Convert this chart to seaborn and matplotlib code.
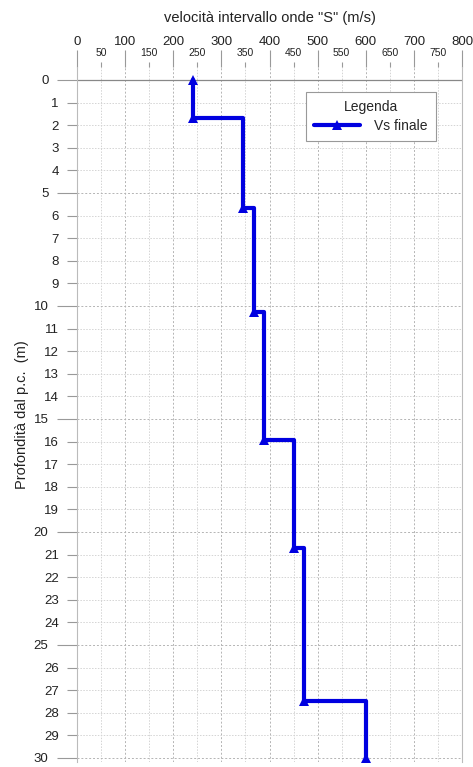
import numpy as np
import pandas as pd
import seaborn as sns
import matplotlib.pyplot as plt
from matplotlib.ticker import MultipleLocator

# Vs interval velocity profile (m/s) and layer bottoms (m)
vs_layers = [240, 345, 367, 388, 450, 472, 600]
layer_bottoms = [1.7, 5.65, 10.25, 15.95, 20.7, 27.5, 30.0]
x_major = [0, 100, 200, 300, 400, 500, 600, 700, 800]
x_minor = [50, 150, 250, 350, 450, 550, 650, 750]

# build step path: each layer vertical from its top to its bottom
xs, ys = [], []
top = 0.0
for v, b in zip(vs_layers, layer_bottoms):
    xs += [v, v]
    ys += [top, b]
    top = b
df = pd.DataFrame({'vs': xs, 'depth': ys, 'serie': 'Vs finale'})
marks = [0] + list(range(1, len(xs), 2))

sns.set_theme(style='white')
plt.rcParams['font.family'] = ['Liberation Sans', 'DejaVu Sans']

fig = plt.figure(figsize=(4.73, 7.67), dpi=100)
ax = fig.add_axes([77/473, 1 - 762/767, (462 - 77)/473, (762 - 67)/767])

sns.lineplot(data=df, x='vs', y='depth', sort=False, estimator=None, ax=ax,
             color='#0000e0', linewidth=3.0, marker='^', markersize=7,
             markeredgewidth=0, markevery=marks, label='Vs finale', zorder=5)

ax.set_xlim(0, 800)
ax.set_ylim(30.18, -0.575)

# grid
ax.xaxis.set_major_locator(MultipleLocator(100))
ax.xaxis.set_minor_locator(MultipleLocator(50))
ax.yaxis.set_major_locator(MultipleLocator(5))
ax.yaxis.set_minor_locator(MultipleLocator(1))
ax.grid(which='major', color='#b4b4b4', linestyle=(0, (2, 2)), linewidth=0.7)
ax.grid(which='minor', color='#d4d4d4', linestyle=(0, (1.5, 1.5)), linewidth=0.7)
ax.axhline(0, color='#888888', linewidth=0.9, zorder=2)

# top x axis with two rows of labels
ax.xaxis.tick_top()
ax.xaxis.set_label_position('top')
ax.set_xticks(x_major)
ax.set_xticks(x_minor, minor=True)
ax.set_xticklabels([str(v) for v in x_major])
ax.set_xticklabels([str(v) for v in x_minor], minor=True)
ax.tick_params(axis='x', which='major', direction='out', length=12, width=0.8,
               color='#999999', labelsize=9.5, pad=1.5, labelcolor='#222222')
ax.tick_params(axis='x', which='minor', direction='out', length=3.5, width=0.8,
               color='#999999', labelsize=7.5, pad=3, labelcolor='#222222')
ax.set_xlabel('velocità intervallo onde "S" (m/s)', fontsize=10.5, labelpad=10,
              color='#222222')

# y axis: major ticks longer, labels shifted left
ax.set_yticks(range(0, 31, 5))
ax.set_yticks(range(0, 31), minor=True)
ax.set_yticklabels([str(v) for v in range(0, 31, 5)])
ax.set_yticklabels(['' if v % 5 == 0 else str(v) for v in range(0, 31)], minor=True)
ax.tick_params(axis='y', which='major', direction='out', length=14.5, width=0.8,
               color='#999999', labelsize=9.5, pad=6, labelcolor='#222222', left=True)
ax.tick_params(axis='y', which='minor', direction='out', length=7, width=0.8,
               color='#999999', labelsize=9.5, pad=6, labelcolor='#222222', left=True)
ax.set_ylabel('Profondità dal p.c.  (m)', fontsize=10.5, labelpad=3, color='#222222')

for side in ['top', 'bottom']:
    ax.spines[side].set_visible(False)
for side in ['left', 'right']:
    ax.spines[side].set_color('#bbbbbb')
    ax.spines[side].set_linewidth(0.8)

leg = ax.legend(title='Legenda', loc='upper right', bbox_to_anchor=(0.95, 0.974),
                fontsize=10, title_fontsize=10, frameon=True, fancybox=False,
                edgecolor='#999999', framealpha=1, handlelength=3.3,
                borderpad=0.6, labelspacing=0.3, handletextpad=1.0)
leg.get_frame().set_linewidth(0.8)

fig.savefig('out.png', dpi=100)
